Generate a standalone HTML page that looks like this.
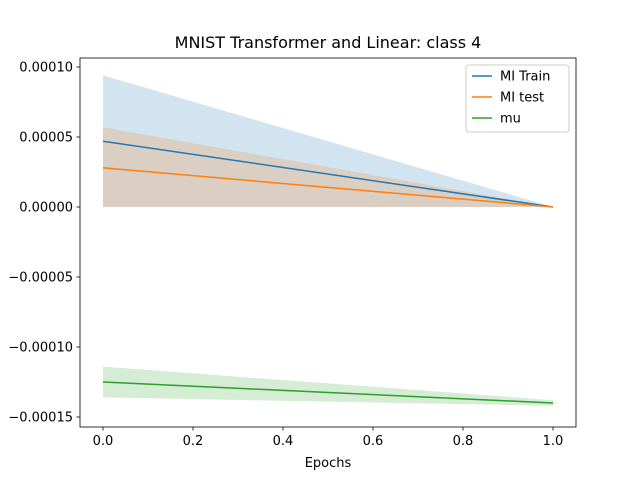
<!DOCTYPE html>
<html><head><meta charset="utf-8"><style>
body{margin:0;background:#fff;}
svg text{font-family:"DejaVu Sans","Liberation Sans",sans-serif;fill:#000;}
</style></head><body>
<svg id="chart" width="640" height="480" viewBox="0 0 640 480" xmlns="http://www.w3.org/2000/svg">
<rect width="640" height="480" fill="#fff"/>
<g id="bands"></g><g id="lines"></g>
<rect x="80" y="58" width="496" height="369" fill="none" stroke="#000" stroke-width="0.8"/>
<g id="axes"></g>
<text x="328" y="48" font-size="16" text-anchor="middle">MNIST Transformer and Linear: class 4</text>
<text x="328" y="467" font-size="13" text-anchor="middle">Epochs</text>
<g>
<rect x="466" y="65" width="103" height="67" rx="3" fill="#fff" fill-opacity="0.8" stroke="#ccc"/>
<line x1="472" y1="76" x2="492" y2="76" stroke="#1f77b4" stroke-width="1.5"/><text x="500" y="80.5" font-size="13">MI Train</text>
<line x1="472" y1="97" x2="492" y2="97" stroke="#ff7f0e" stroke-width="1.5"/><text x="500" y="101.5" font-size="13">MI test</text>
<line x1="472" y1="118" x2="492" y2="118" stroke="#2ca02c" stroke-width="1.5"/><text x="500" y="122.5" font-size="13">mu</text>
</g>
</svg>
<script>
const epochs=[0,1];
const trainMean=[4.7e-5,0];
const trainLow=[0,0];
const trainHigh=[9.4e-5,0];
const testMean=[2.8e-5,0];
const testLow=[0,0];
const testHigh=[5.7e-5,0];
const muMean=[-1.25e-4,-1.40e-4];
const muLow=[-1.36e-4,-1.42e-4];
const muHigh=[-1.14e-4,-1.38e-4];
const xTicks=[0,0.2,0.4,0.6,0.8,1.0];
const yTicks=[1e-4,5e-5,0,-5e-5,-1e-4,-1.5e-4];
const yTickLabels=["0.00010","0.00005","0.00000","\u22120.00005","\u22120.00010","\u22120.00015"];
const X=v=>103+v*450, Y=v=>207-v*1.4e6;
const NS="http://www.w3.org/2000/svg";
function mk(t,a,p){const e=document.createElementNS(NS,t);for(const k in a)e.setAttribute(k,a[k]);p.appendChild(e);return e;}
const bands=document.getElementById('bands'),lines=document.getElementById('lines'),axes=document.getElementById('axes');
function band(lo,hi,c,n){const pts=epochs.map((e,i)=>X(e)+','+Y(hi[i])).concat(epochs.slice().reverse().map((e,j)=>{const i=epochs.length-1-j;return X(e)+','+Y(lo[i]);}));
const p=mk('polygon',{points:pts.join(' '),fill:c,'fill-opacity':0.2},bands);

}
function line(m,c,n){const p=mk('polyline',{points:epochs.map((e,i)=>X(e)+','+Y(m[i])).join(' '),fill:'none',stroke:c,'stroke-width':1.5},lines);

}
band(trainLow,trainHigh,'#1f77b4','mi-train-band');
band(testLow,testHigh,'#ff7f0e','mi-test-band');
band(muLow,muHigh,'#2ca02c','mu-band');
line(trainMean,'#1f77b4','mi-train-line');
line(testMean,'#ff7f0e','mi-test-line');
line(muMean,'#2ca02c','mu-line');
xTicks.forEach(v=>{mk('line',{x1:X(v),x2:X(v),y1:427,y2:430.5,stroke:'#000','stroke-width':0.8},axes);
const t=mk('text',{x:X(v),y:445,'font-size':13,'text-anchor':'middle'},axes);t.textContent=v.toFixed(1);

});
yTicks.forEach((v,i)=>{mk('line',{x1:76.5,x2:80,y1:Y(v),y2:Y(v),stroke:'#000','stroke-width':0.8},axes);
const t=mk('text',{x:73,y:Y(v)+4.5,'font-size':13,'text-anchor':'end'},axes);t.textContent=yTickLabels[i];

});
</script>
</body></html>
